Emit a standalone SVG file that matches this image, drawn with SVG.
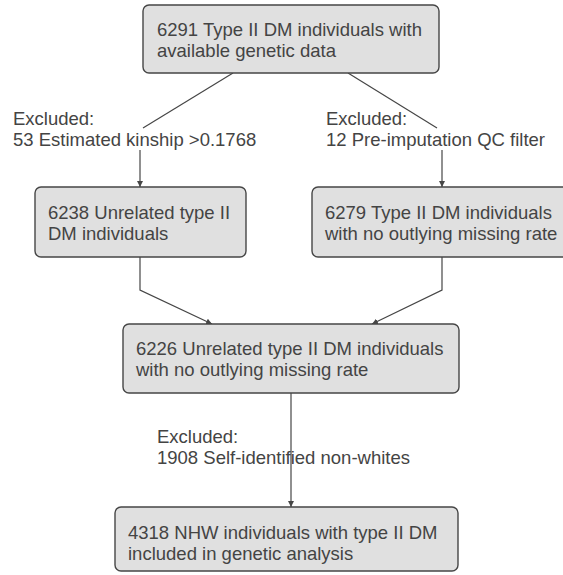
<svg xmlns="http://www.w3.org/2000/svg" width="563" height="575" viewBox="0 0 563 575">
<style>
.box{fill:#e0e0e0;stroke:#464646;stroke-width:1.4}
.t{font-family:"Liberation Sans",Arial,sans-serif;font-size:18.5px;fill:#444}
.c{fill:none;stroke:#464646;stroke-width:1.2}
</style>
<defs>
<marker id="ah" viewBox="0 0 10 10" refX="10" refY="5" markerWidth="6" markerHeight="6" markerUnits="userSpaceOnUse" orient="auto">
<path d="M0,0 L10,5 L0,10 z" fill="#464646"/>
</marker>
</defs>
<rect width="563" height="575" fill="#fff"/>
<g id="connectors">
<line class="c" x1="233" y1="73" x2="143" y2="128"/>
<line class="c" x1="348" y1="73" x2="437" y2="128"/>
<line class="c" x1="140" y1="150" x2="140" y2="187" marker-end="url(#ah)"/>
<line class="c" x1="442" y1="150" x2="442" y2="187" marker-end="url(#ah)"/>
<polyline class="c" points="140,257 140,290 212,324" marker-end="url(#ah)"/>
<polyline class="c" points="442,257 442,290 372,324" marker-end="url(#ah)"/>
<line class="c" x1="291" y1="393" x2="291" y2="507" marker-end="url(#ah)"/>
</g>
<g id="labels">
<text class="t" x="13" y="125">Excluded:</text>
<text class="t" x="13" y="146">53 Estimated kinship &gt;0.1768</text>
<text class="t" x="326" y="125">Excluded:</text>
<text class="t" x="326" y="146">12 Pre-imputation QC filter</text>
<text class="t" x="157" y="443">Excluded:</text>
<text class="t" x="157" y="464">1908 Self-identified non-whites</text>
</g>
<g id="n1">
<rect class="box" x="143" y="5" width="296" height="68" rx="6"/>
<text class="t" x="157" y="36">6291 Type II DM individuals with</text>
<text class="t" x="157" y="57">available genetic data</text>
</g>
<g id="n2">
<rect class="box" x="35" y="187" width="211" height="70" rx="6"/>
<text class="t" x="48" y="219">6238 Unrelated type II</text>
<text class="t" x="48" y="240">DM individuals</text>
</g>
<g id="n3">
<rect class="box" x="312" y="187" width="262" height="70" rx="6"/>
<text class="t" x="325" y="219">6279 Type II DM individuals</text>
<text class="t" x="325" y="240">with no outlying missing rate</text>
</g>
<g id="n4">
<rect class="box" x="123" y="324" width="336" height="69" rx="6"/>
<text class="t" x="136" y="355">6226 Unrelated type II DM individuals</text>
<text class="t" x="136" y="376">with no outlying missing rate</text>
</g>
<g id="n5">
<rect class="box" x="115" y="507" width="343" height="64" rx="6"/>
<text class="t" x="128" y="539">4318 NHW individuals with type II DM</text>
<text class="t" x="128" y="560">included in genetic analysis</text>
</g>
</svg>
